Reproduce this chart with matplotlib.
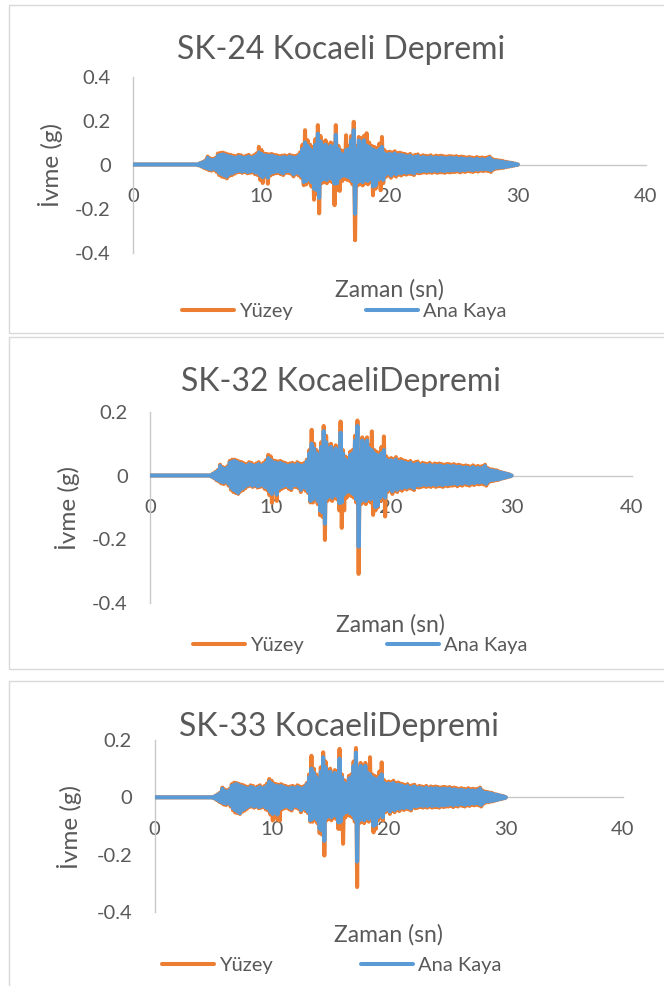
import numpy as np
import matplotlib
matplotlib.use("Agg")
import matplotlib.pyplot as plt
from matplotlib.patches import Rectangle
from matplotlib.ticker import FuncFormatter

# ---------------- data ----------------
t_record_start = 0.0      # record starts (quiet until shaking)
t_shaking_start = 5.0     # first sample of the shaking part (s)
dt = 0.1                  # step of the read-off peaks (s)

# Ana Kaya (bedrock input) - same input motion for all profiles
ana_kaya = [
    0.000, -0.003, 0.005, -0.007, 0.009, -0.012, 0.014, -0.016, 0.030, -0.020,
    0.022, -0.022, 0.020, -0.018, 0.024, -0.026, 0.040, -0.038, 0.044, -0.045,
    0.046, -0.050, 0.042, -0.055, 0.038, -0.044, 0.036, -0.040, 0.032, -0.034,
    0.030, -0.030, 0.036, -0.028, 0.034, -0.032, 0.030, -0.028, 0.032, -0.034,
    0.036, -0.032, 0.030, -0.028, 0.034, -0.036, 0.040, -0.038, 0.055, -0.050,
    0.048, -0.058, 0.042, -0.045, 0.040, -0.060, 0.038, -0.040, 0.040, -0.036,
    0.036, -0.032, 0.034, -0.030, 0.030, -0.036, 0.032, -0.040, 0.034, -0.030,
    0.030, -0.030, 0.036, -0.034, 0.032, -0.045, 0.030, -0.036, 0.034, -0.040,
    0.045, -0.050, 0.070, -0.080, 0.100, -0.075, 0.085, -0.065, 0.070, -0.080,
    0.060, -0.110, 0.090, -0.116, 0.140, -0.152, 0.105, -0.070, 0.085, -0.065,
    0.090, -0.070, 0.075, -0.060, 0.085, -0.065, 0.080, -0.087, 0.135, -0.085,
    0.070, -0.060, 0.050, -0.052, 0.045, -0.050, 0.065, -0.055, 0.070, -0.060,
    0.110, -0.075, 0.156, -0.224, 0.070, -0.080, 0.110, -0.075, 0.100, -0.080,
    0.110, -0.070, 0.085, -0.075, 0.080, -0.065, 0.070, -0.100, 0.065, -0.095,
    0.060, -0.070, 0.070, -0.060, 0.080, -0.070, 0.050, -0.045, 0.045, -0.040,
    0.048, -0.050, 0.045, -0.040, 0.050, -0.045, 0.042, -0.038, 0.044, -0.040,
    0.042, -0.035, 0.040, -0.038, 0.036, -0.034, 0.040, -0.036, 0.032, -0.040,
    0.035, -0.030, 0.038, -0.032, 0.030, -0.030, 0.034, -0.028, 0.032, -0.030,
    0.030, -0.028, 0.034, -0.030, 0.028, -0.026, 0.032, -0.030, 0.030, -0.028,
    0.032, -0.028, 0.030, -0.030, 0.028, -0.026, 0.030, -0.028, 0.030, -0.026,
    0.028, -0.026, 0.030, -0.024, 0.026, -0.028, 0.028, -0.024, 0.026, -0.026,
    0.024, -0.022, 0.026, -0.024, 0.024, -0.026, 0.022, -0.022, 0.026, -0.024,
    0.022, -0.020, 0.024, -0.022, 0.022, -0.020, 0.024, -0.022, 0.030, -0.026,
    0.020, -0.018, 0.016, -0.014, 0.016, -0.014, 0.014, -0.012, 0.013, -0.012,
    0.010, -0.010, 0.009, -0.008, 0.007, -0.006, 0.005, -0.004, 0.003, -0.002,
    0.000,
]

# Yüzey (surface) response, SK-24
yuzey_sk24 = [
    0.000, -0.004, 0.006, -0.009, 0.011, -0.015, 0.018, -0.020, 0.036, -0.026,
    0.028, -0.028, 0.025, -0.024, 0.030, -0.034, 0.050, -0.048, 0.053, -0.055,
    0.054, -0.058, 0.050, -0.063, 0.046, -0.052, 0.044, -0.048, 0.040, -0.042,
    0.038, -0.036, 0.044, -0.034, 0.042, -0.038, 0.036, -0.034, 0.040, -0.040,
    0.044, -0.038, 0.036, -0.036, 0.042, -0.044, 0.050, -0.048, 0.080, -0.070,
    0.066, -0.084, 0.050, -0.055, 0.048, -0.087, 0.046, -0.050, 0.048, -0.044,
    0.044, -0.040, 0.042, -0.038, 0.038, -0.044, 0.040, -0.048, 0.042, -0.038,
    0.038, -0.038, 0.044, -0.042, 0.040, -0.054, 0.038, -0.044, 0.042, -0.050,
    0.055, -0.060, 0.090, -0.094, 0.156, -0.090, 0.110, -0.080, 0.090, -0.100,
    0.080, -0.160, 0.115, -0.135, 0.179, -0.222, 0.130, -0.085, 0.100, -0.080,
    0.110, -0.085, 0.090, -0.075, 0.100, -0.080, 0.095, -0.185, 0.179, -0.115,
    0.085, -0.120, 0.065, -0.075, 0.060, -0.065, 0.133, -0.070, 0.085, -0.075,
    0.130, -0.090, 0.194, -0.344, 0.085, -0.095, 0.125, -0.090, 0.120, -0.095,
    0.130, -0.085, 0.142, -0.090, 0.100, -0.080, 0.085, -0.140, 0.080, -0.110,
    0.075, -0.085, 0.095, -0.117, 0.125, -0.085, 0.065, -0.056, 0.056, -0.050,
    0.058, -0.060, 0.055, -0.050, 0.060, -0.055, 0.052, -0.046, 0.054, -0.050,
    0.050, -0.044, 0.048, -0.046, 0.044, -0.042, 0.048, -0.044, 0.040, -0.048,
    0.044, -0.038, 0.046, -0.040, 0.038, -0.038, 0.042, -0.036, 0.040, -0.038,
    0.038, -0.036, 0.042, -0.038, 0.036, -0.034, 0.040, -0.038, 0.038, -0.036,
    0.040, -0.036, 0.038, -0.038, 0.036, -0.034, 0.038, -0.036, 0.038, -0.034,
    0.036, -0.034, 0.038, -0.032, 0.034, -0.036, 0.036, -0.032, 0.034, -0.034,
    0.032, -0.030, 0.034, -0.032, 0.032, -0.034, 0.030, -0.030, 0.034, -0.032,
    0.030, -0.028, 0.032, -0.030, 0.030, -0.028, 0.032, -0.030, 0.036, -0.034,
    0.026, -0.024, 0.021, -0.019, 0.020, -0.018, 0.018, -0.016, 0.017, -0.015,
    0.013, -0.012, 0.011, -0.010, 0.009, -0.008, 0.007, -0.005, 0.004, -0.003,
    0.000,
]

# Yüzey (surface) response, SK-32
yuzey_sk32 = [
    0.000, -0.004, 0.006, -0.009, 0.011, -0.015, 0.017, -0.019, 0.034, -0.025,
    0.027, -0.027, 0.024, -0.023, 0.029, -0.032, 0.046, -0.045, 0.050, -0.052,
    0.050, -0.055, 0.047, -0.058, 0.044, -0.050, 0.042, -0.046, 0.038, -0.040,
    0.036, -0.034, 0.042, -0.032, 0.040, -0.036, 0.034, -0.032, 0.038, -0.038,
    0.042, -0.036, 0.034, -0.034, 0.040, -0.042, 0.048, -0.046, 0.065, -0.062,
    0.060, -0.086, 0.048, -0.052, 0.046, -0.080, 0.044, -0.048, 0.046, -0.042,
    0.042, -0.038, 0.040, -0.036, 0.036, -0.042, 0.038, -0.046, 0.040, -0.036,
    0.036, -0.036, 0.042, -0.040, 0.038, -0.052, 0.036, -0.042, 0.040, -0.048,
    0.050, -0.055, 0.080, -0.085, 0.144, -0.085, 0.100, -0.075, 0.080, -0.090,
    0.070, -0.125, 0.105, -0.130, 0.156, -0.203, 0.125, -0.080, 0.095, -0.075,
    0.100, -0.080, 0.085, -0.070, 0.095, -0.075, 0.090, -0.110, 0.170, -0.165,
    0.080, -0.110, 0.060, -0.070, 0.055, -0.060, 0.075, -0.065, 0.080, -0.070,
    0.125, -0.085, 0.173, -0.310, 0.080, -0.090, 0.120, -0.085, 0.112, -0.090,
    0.120, -0.080, 0.095, -0.085, 0.139, -0.124, 0.080, -0.110, 0.075, -0.100,
    0.070, -0.080, 0.090, -0.070, 0.123, -0.129, 0.060, -0.052, 0.052, -0.047,
    0.055, -0.058, 0.052, -0.048, 0.058, -0.052, 0.050, -0.044, 0.052, -0.048,
    0.048, -0.042, 0.046, -0.044, 0.042, -0.040, 0.046, -0.042, 0.038, -0.046,
    0.042, -0.036, 0.044, -0.038, 0.036, -0.036, 0.040, -0.034, 0.038, -0.036,
    0.036, -0.034, 0.040, -0.036, 0.034, -0.032, 0.038, -0.036, 0.036, -0.034,
    0.038, -0.034, 0.036, -0.036, 0.034, -0.032, 0.036, -0.034, 0.036, -0.032,
    0.034, -0.032, 0.036, -0.030, 0.032, -0.034, 0.034, -0.030, 0.032, -0.032,
    0.030, -0.028, 0.032, -0.030, 0.030, -0.032, 0.028, -0.028, 0.032, -0.030,
    0.028, -0.026, 0.030, -0.028, 0.028, -0.026, 0.030, -0.028, 0.034, -0.032,
    0.024, -0.022, 0.020, -0.018, 0.019, -0.017, 0.017, -0.015, 0.016, -0.014,
    0.012, -0.011, 0.010, -0.009, 0.008, -0.007, 0.006, -0.005, 0.004, -0.003,
    0.000,
]

# Yüzey (surface) response, SK-33
yuzey_sk33 = [
    0.000, -0.004, 0.006, -0.009, 0.011, -0.015, 0.017, -0.019, 0.034, -0.025,
    0.027, -0.027, 0.024, -0.023, 0.029, -0.032, 0.046, -0.045, 0.051, -0.053,
    0.050, -0.055, 0.047, -0.058, 0.044, -0.050, 0.042, -0.046, 0.038, -0.040,
    0.036, -0.034, 0.042, -0.032, 0.040, -0.036, 0.034, -0.032, 0.038, -0.038,
    0.042, -0.036, 0.034, -0.034, 0.040, -0.042, 0.048, -0.046, 0.064, -0.060,
    0.058, -0.081, 0.048, -0.052, 0.046, -0.078, 0.044, -0.081, 0.046, -0.042,
    0.042, -0.038, 0.040, -0.036, 0.036, -0.042, 0.038, -0.046, 0.040, -0.036,
    0.036, -0.036, 0.042, -0.040, 0.038, -0.052, 0.036, -0.042, 0.040, -0.048,
    0.050, -0.055, 0.080, -0.085, 0.145, -0.085, 0.100, -0.075, 0.080, -0.090,
    0.070, -0.125, 0.105, -0.130, 0.157, -0.203, 0.125, -0.080, 0.095, -0.075,
    0.100, -0.080, 0.085, -0.070, 0.095, -0.075, 0.090, -0.110, 0.169, -0.110,
    0.080, -0.162, 0.060, -0.070, 0.055, -0.060, 0.075, -0.065, 0.080, -0.070,
    0.125, -0.085, 0.172, -0.313, 0.080, -0.090, 0.120, -0.085, 0.112, -0.090,
    0.120, -0.080, 0.095, -0.085, 0.140, -0.075, 0.080, -0.122, 0.075, -0.110,
    0.070, -0.080, 0.090, -0.070, 0.122, -0.080, 0.060, -0.052, 0.052, -0.047,
    0.055, -0.058, 0.052, -0.048, 0.058, -0.052, 0.050, -0.044, 0.052, -0.048,
    0.048, -0.042, 0.046, -0.044, 0.042, -0.040, 0.046, -0.042, 0.038, -0.046,
    0.042, -0.036, 0.044, -0.038, 0.036, -0.036, 0.040, -0.034, 0.038, -0.036,
    0.036, -0.034, 0.040, -0.036, 0.034, -0.032, 0.038, -0.036, 0.036, -0.034,
    0.038, -0.034, 0.036, -0.036, 0.034, -0.032, 0.036, -0.034, 0.036, -0.032,
    0.034, -0.032, 0.036, -0.030, 0.032, -0.034, 0.034, -0.030, 0.032, -0.032,
    0.030, -0.028, 0.032, -0.030, 0.030, -0.032, 0.028, -0.028, 0.032, -0.030,
    0.028, -0.026, 0.030, -0.028, 0.028, -0.026, 0.030, -0.028, 0.034, -0.032,
    0.024, -0.022, 0.020, -0.018, 0.019, -0.017, 0.017, -0.015, 0.016, -0.014,
    0.012, -0.011, 0.010, -0.009, 0.008, -0.007, 0.006, -0.005, 0.004, -0.003,
    0.000,
]

titles = ["SK-24 Kocaeli Depremi", "SK-32 KocaeliDepremi", "SK-33 KocaeliDepremi"]
surface_series = [yuzey_sk24, yuzey_sk32, yuzey_sk33]
x_ticks = [0, 10, 20, 30, 40]
y_ticks_sk24 = [-0.4, -0.2, 0.0, 0.2, 0.4]
y_ticks_sk3x = [-0.4, -0.2, 0.0, 0.2]
y_ticks = [y_ticks_sk24, y_ticks_sk3x, y_ticks_sk3x]
series_names = ["Yüzey", "Ana Kaya"]
x_title = "Zaman (sn)"
y_title = "İvme (g)"

# ---------------- layout / style (pixels) ----------------
W, H, DPI = 664, 986, 100
ORANGE = "#ED7D31"
BLUE = "#5B9BD5"
TXT = "#595959"
AXC = "#c8c8c8"
BORDER = "#d9d9d9"
LW = 2.9

plt.rcParams["font.family"] = ["Lato", "DejaVu Sans"]

panels = [
    dict(box=(8.5, 5.0, 332.5), ax=(133.3, 646.0, 76.5, 252.5), ylim=(-0.4, 0.4),
         title=(341, 50), xt=(389.5, 290), yt=(50, 165), leg=((182, 311.7), (366, 311.7))),
    dict(box=(8.5, 336.7, 669.0), ax=(150.3, 632.0, 412.0, 602.5), ylim=(-0.4, 0.2),
         title=(341, 381.7), xt=(390, 625), yt=(67, 508), leg=((192.6, 645), (387, 645))),
    dict(box=(9.3, 680.7, 1000.0), ax=(154.5, 623.0, 740.0, 912.0), ylim=(-0.4, 0.2),
         title=(338.7, 726.7), xt=(388.6, 935), yt=(70, 827), leg=((162, 965), (361, 965))),
]

def fx(x):
    return x / W

def fy(y):
    return 1 - y / H

fig = plt.figure(figsize=(W / DPI, H / DPI), dpi=DPI)
fig.patch.set_facecolor("white")

def tick_fmt(v, pos):
    if abs(v) < 1e-9:
        return "0"
    return f"{v:g}"

n = len(ana_kaya)
time = np.concatenate([[t_record_start], t_shaking_start + dt * np.arange(n)])
rock = np.concatenate([[0.0], np.array(ana_kaya)])

for p, title, surf, yt in zip(panels, titles, surface_series, y_ticks):
    bl, bt, bb = p["box"]
    fig.patches.append(Rectangle((fx(bl), fy(bb)), fx(720) - fx(bl), fy(bt) - fy(bb),
                                 transform=fig.transFigure, fill=False,
                                 edgecolor=BORDER, linewidth=1.0, zorder=0))
    l, r, t, b = p["ax"]
    ax = fig.add_axes([fx(l), fy(b), fx(r) - fx(l), fy(t) - fy(b)])
    ax.set_facecolor("none")
    surf_v = np.concatenate([[0.0], np.array(surf)])
    l1, = ax.plot(time, surf_v, color=ORANGE, lw=LW, solid_joinstyle="round",
                  solid_capstyle="round", zorder=3, label=series_names[0])
    l2, = ax.plot(time, rock, color=BLUE, lw=LW, solid_joinstyle="round",
                  solid_capstyle="round", zorder=4, label=series_names[1])
    ax.set_xlim(0, 40)
    ax.set_ylim(*p["ylim"])
    ax.set_xticks(x_ticks)
    ax.set_yticks(yt)
    ax.xaxis.set_major_formatter(FuncFormatter(tick_fmt))
    ax.yaxis.set_major_formatter(FuncFormatter(tick_fmt))
    for s in ("top", "right"):
        ax.spines[s].set_visible(False)
    ax.spines["bottom"].set_position(("data", 0))
    for s in ("left", "bottom"):
        ax.spines[s].set_color(AXC)
        ax.spines[s].set_linewidth(1.0)
        ax.spines[s].set_zorder(2)
    ax.tick_params(axis="x", length=0, pad=17.2, labelsize=14.5, labelcolor=TXT)
    ax.tick_params(axis="y", length=0, pad=16.2, labelsize=14.5, labelcolor=TXT)

    fig.text(fx(p["title"][0]), fy(p["title"][1]), title, ha="center", va="center",
             fontsize=23, color=TXT)
    fig.text(fx(p["xt"][0]), fy(p["xt"][1]), x_title, ha="center", va="center",
             fontsize=16.5, color=TXT)
    fig.text(fx(p["yt"][0]), fy(p["yt"][1]), y_title, ha="center", va="center",
             rotation=90, fontsize=17.5, color=TXT)

    for handle, (lx, ly) in zip((l1, l2), p["leg"]):
        fig.legend(handles=[handle], loc="center left",
                   bbox_to_anchor=(fx(lx), fy(ly)), bbox_transform=fig.transFigure,
                   frameon=False, borderpad=0, borderaxespad=0,
                   handlelength=2.58, handletextpad=0.25, fontsize=14.5,
                   labelcolor=TXT)

fig.savefig("out.png", dpi=DPI, facecolor="white")
